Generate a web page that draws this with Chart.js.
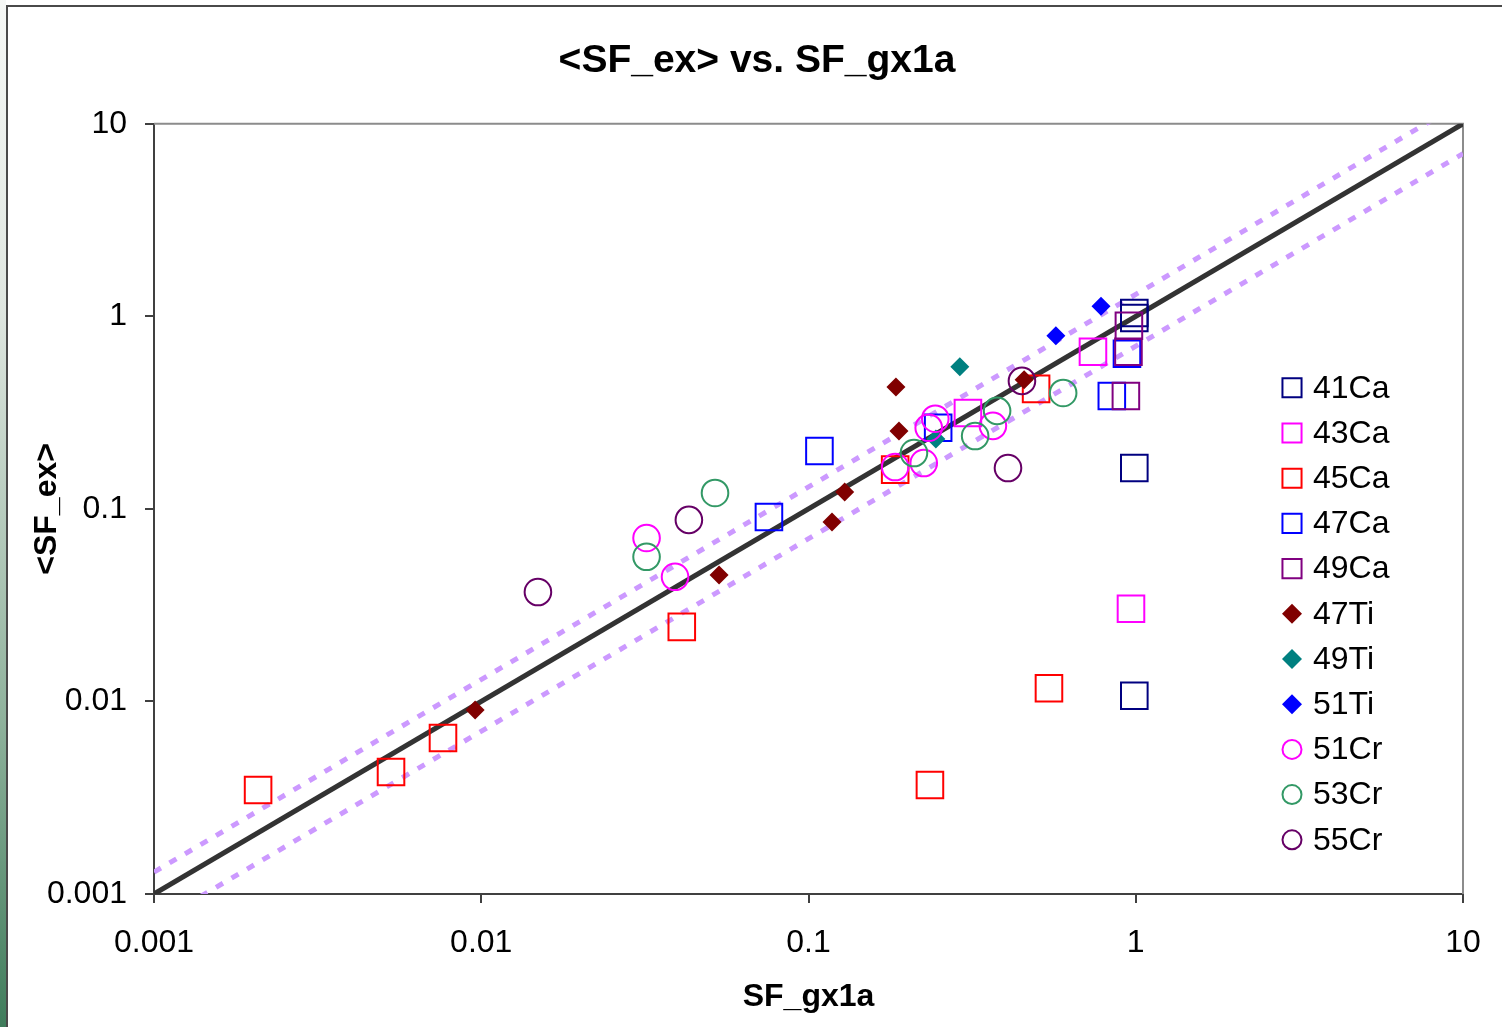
<!DOCTYPE html>
<html lang="en">
<head>
    <meta charset="UTF-8">
    <title>&lt;SF_ex&gt; vs. SF_gx1a</title>
    <script src="https://cdn.jsdelivr.net/npm/chart.js"></script>
    <style>
        html, body { margin: 0; padding: 0; background: #fff; overflow: hidden; }
        #strip { position: absolute; left: 0; top: 0; width: 6px; height: 1027px;
                 background: linear-gradient(#f6f8f6, #dfe6e0 30%, #8fb29c 70%, #3f7c5b); }
        #frame { position: absolute; left: 6px; top: 5px; width: 1600px; height: 1100px;
                 border-left: 2px solid #4a4a4a; border-top: 2px solid #4a4a4a; }
        #wrap { position: absolute; left: 0; top: 0; width: 1514px; height: 1027px; }
    </style>
</head>
<body>
    <div id="strip"></div>
    <div id="frame"></div>
    <div id="wrap"><canvas id="sfChart"></canvas></div>

    <script>
        // axis ticks (log decades)
        const tickValues = [0.001, 0.01, 0.1, 1, 10];
        const tickLabels = ["0.001", "0.01", "0.1", "1", "10"];

        // reference lines: y = x and +/-30% band
        const refX = [0.001, 10];
        const refY = [0.001, 10];
        const upperY = [0.0013, 13];
        const lowerY = [0.0007, 7];

        // series names + values
        const seriesNames = ["41Ca", "43Ca", "45Ca", "47Ca", "49Ca", "47Ti", "49Ti", "51Ti", "51Cr", "53Cr", "55Cr"];

        const x41Ca = [0.99, 0.99, 0.99, 0.99];
        const y41Ca = [1.04, 0.98, 0.163, 0.0107];
        const x43Ca = [0.74, 0.307, 0.967];
        const y43Ca = [0.655, 0.315, 0.0303];
        const x45Ca = [0.00208, 0.0053, 0.00764, 0.041, 0.184, 0.496, 0.543, 0.235];
        const y45Ca = [0.00347, 0.0043, 0.00646, 0.0244, 0.16, 0.42, 0.0117, 0.00368];
        const x47Ca = [0.108, 0.0757, 0.249, 0.845, 0.94];
        const y47Ca = [0.2, 0.0908, 0.264, 0.386, 0.64];
        const x49Ca = [0.953, 0.95, 0.933];
        const y49Ca = [0.893, 0.655, 0.386];
        const x47Ti = [0.00958, 0.0533, 0.118, 0.129, 0.185, 0.189, 0.456];
        const y47Ti = [0.00904, 0.0454, 0.0855, 0.1225, 0.43, 0.254, 0.468];
        const x49Ti = [0.29, 0.245];
        const y49Ti = [0.547, 0.231];
        const x51Ti = [0.783, 0.57];
        const y51Ti = [1.13, 0.792];
        const x51Cr = [0.032, 0.0391, 0.184, 0.225, 0.233, 0.244, 0.366];
        const y51Cr = [0.0706, 0.0444, 0.165, 0.173, 0.264, 0.294, 0.27];
        const x53Cr = [0.0518, 0.032, 0.21, 0.323, 0.377, 0.60];
        const y53Cr = [0.121, 0.0564, 0.195, 0.239, 0.323, 0.40];
        const x55Cr = [0.0149, 0.0431, 0.407, 0.449];
        const y55Cr = [0.037, 0.0877, 0.163, 0.462];

        const seriesX = [x41Ca, x43Ca, x45Ca, x47Ca, x49Ca, x47Ti, x49Ti, x51Ti, x51Cr, x53Cr, x55Cr];
        const seriesY = [y41Ca, y43Ca, y45Ca, y47Ca, y49Ca, y47Ti, y49Ti, y51Ti, y51Cr, y53Cr, y55Cr];
        const seriesColors = ["#000080", "#FF00FF", "#FF0000", "#0000FF", "#800080",
                              "#800000", "#008080", "#0000FF", "#FF00FF", "#339966", "#660066"];
        const seriesShapes = ["rect", "rect", "rect", "rect", "rect",
                              "rectRot", "rectRot", "rectRot", "circle", "circle", "circle"];

        const FONT = "'Liberation Sans', Arial, sans-serif";

        function pairs(xs, ys) {
            return xs.map((x, i) => ({ x: x, y: ys[i] }));
        }

        // marker style per shape (plot, legend)
        function markerStyle(shape, color, inLegend) {
            if (shape === "rect") return { r: inLegend ? 13.5 : 18.8, fill: "rgba(0,0,0,0)", border: color, bw: 2 };
            if (shape === "circle") return { r: inLegend ? 9.5 : 13.3, fill: "rgba(0,0,0,0)", border: color, bw: 2 };
            return { r: inLegend ? 10 : 9.5, fill: color, border: color, bw: 0 };
        }

        const datasets = [];
        seriesNames.forEach((name, i) => {
            const st = markerStyle(seriesShapes[i], seriesColors[i], false);
            datasets.push({
                label: name,
                data: pairs(seriesX[i], seriesY[i]),
                pointStyle: seriesShapes[i],
                pointRadius: st.r,
                pointHoverRadius: st.r,
                pointBackgroundColor: st.fill,
                pointBorderColor: st.border,
                pointBorderWidth: st.bw,
                showLine: false,
                order: seriesNames.length - i
            });
        });

        datasets.push({
            label: "upper", data: pairs(refX, upperY), showLine: true, pointRadius: 0,
            borderColor: "#CC99FF", borderWidth: 5, borderDash: [8, 10], order: 100
        });
        datasets.push({
            label: "lower", data: pairs(refX, lowerY), showLine: true, pointRadius: 0,
            borderColor: "#CC99FF", borderWidth: 5, borderDash: [8, 10], order: 100
        });
        datasets.push({
            label: "y=x", data: pairs(refX, refY), showLine: true, pointRadius: 0,
            borderColor: "#333333", borderWidth: 5, order: 99
        });

        // gray frame on top/right of plot area
        const framePlugin = {
            id: "plotFrame",
            beforeDatasetsDraw(chart) {
                const { ctx, chartArea: a } = chart;
                ctx.save();
                ctx.strokeStyle = "#8c8c8c";
                ctx.lineWidth = 2;
                ctx.beginPath();
                ctx.moveTo(a.left, a.top);
                ctx.lineTo(a.right, a.top);
                ctx.lineTo(a.right, a.bottom);
                ctx.stroke();
                ctx.restore();
            }
        };

        // legend drawn inside the plot area, right side
        const legendPlugin = {
            id: "insideLegend",
            afterDraw(chart) {
                const { ctx, chartArea: a } = chart;
                const mx = a.right - 171;
                const y0 = a.top + 264;
                const step = 45.2;
                seriesNames.forEach((name, i) => {
                    const y = y0 + i * step;
                    const st = markerStyle(seriesShapes[i], seriesColors[i], true);
                    ctx.save();
                    ctx.fillStyle = st.fill;
                    ctx.strokeStyle = st.border;
                    ctx.lineWidth = 2;
                    ctx.beginPath();
                    if (seriesShapes[i] === "rect") {
                        const h = st.r * Math.SQRT1_2;
                        ctx.rect(mx - h, y - h, 2 * h, 2 * h);
                        ctx.stroke();
                    } else if (seriesShapes[i] === "circle") {
                        ctx.arc(mx, y, st.r, 0, Math.PI * 2);
                        ctx.stroke();
                    } else {
                        ctx.moveTo(mx, y - st.r);
                        ctx.lineTo(mx + st.r, y);
                        ctx.lineTo(mx, y + st.r);
                        ctx.lineTo(mx - st.r, y);
                        ctx.closePath();
                        ctx.fill();
                    }
                    ctx.fillStyle = "#000";
                    ctx.font = "32px " + FONT;
                    ctx.textBaseline = "middle";
                    ctx.textAlign = "left";
                    ctx.fillText(name, mx + 21, y + 1);
                    ctx.restore();
                });
            }
        };

        const logAxis = (titleText, pos) => ({
            type: "logarithmic",
            position: pos,
            min: 0.001,
            max: 10,
            afterBuildTicks: (scale) => { scale.ticks = tickValues.map(v => ({ value: v })); },
            ticks: {
                autoSkip: false,
                maxRotation: 0,
                color: "#000",
                font: { family: FONT, size: 32 },
                padding: pos === "left" ? 18 : 21,
                callback: (v) => tickLabels[tickValues.indexOf(v)]
            },
            grid: { display: true, drawOnChartArea: false, drawTicks: true, tickLength: 9, color: "#404040", lineWidth: 2 },
            border: { display: true, color: "#404040", width: 2 },
            title: {
                display: true,
                text: titleText,
                color: "#000",
                font: { family: FONT, size: 32, weight: "bold" },
                padding: pos === "left" ? { top: 28, bottom: 0 } : { top: 0, bottom: 11 }
            }
        });

        const xAxis = logAxis("SF_gx1a", "bottom");
        xAxis.afterFit = (scale) => { scale.height = 133; };
        const yAxis = logAxis("<SF_ex>", "left");
        yAxis.afterFit = (scale) => { scale.width = 154; };

        // empty right-hand spacer so the plot ends where the reference does
        const spacer = {
            type: "linear",
            position: "right",
            display: true,
            ticks: { display: false },
            grid: { display: false },
            border: { display: false },
            afterFit: (scale) => { scale.width = 51; }
        };

        new Chart(document.getElementById("sfChart"), {
            type: "scatter",
            data: { datasets: datasets },
            options: {
                responsive: true,
                maintainAspectRatio: false,
                animation: false,
                layout: { padding: 0 },
                scales: { x: xAxis, y: yAxis, yRight: spacer },
                plugins: {
                    legend: { display: false },
                    tooltip: { enabled: false },
                    title: {
                        display: true,
                        text: "<SF_ex> vs. SF_gx1a",
                        color: "#000",
                        font: { family: FONT, size: 39, weight: "bold" },
                        padding: { top: 38, bottom: 39 }
                    }
                }
            },
            plugins: [framePlugin, legendPlugin]
        });
    </script>
</body>
</html>
